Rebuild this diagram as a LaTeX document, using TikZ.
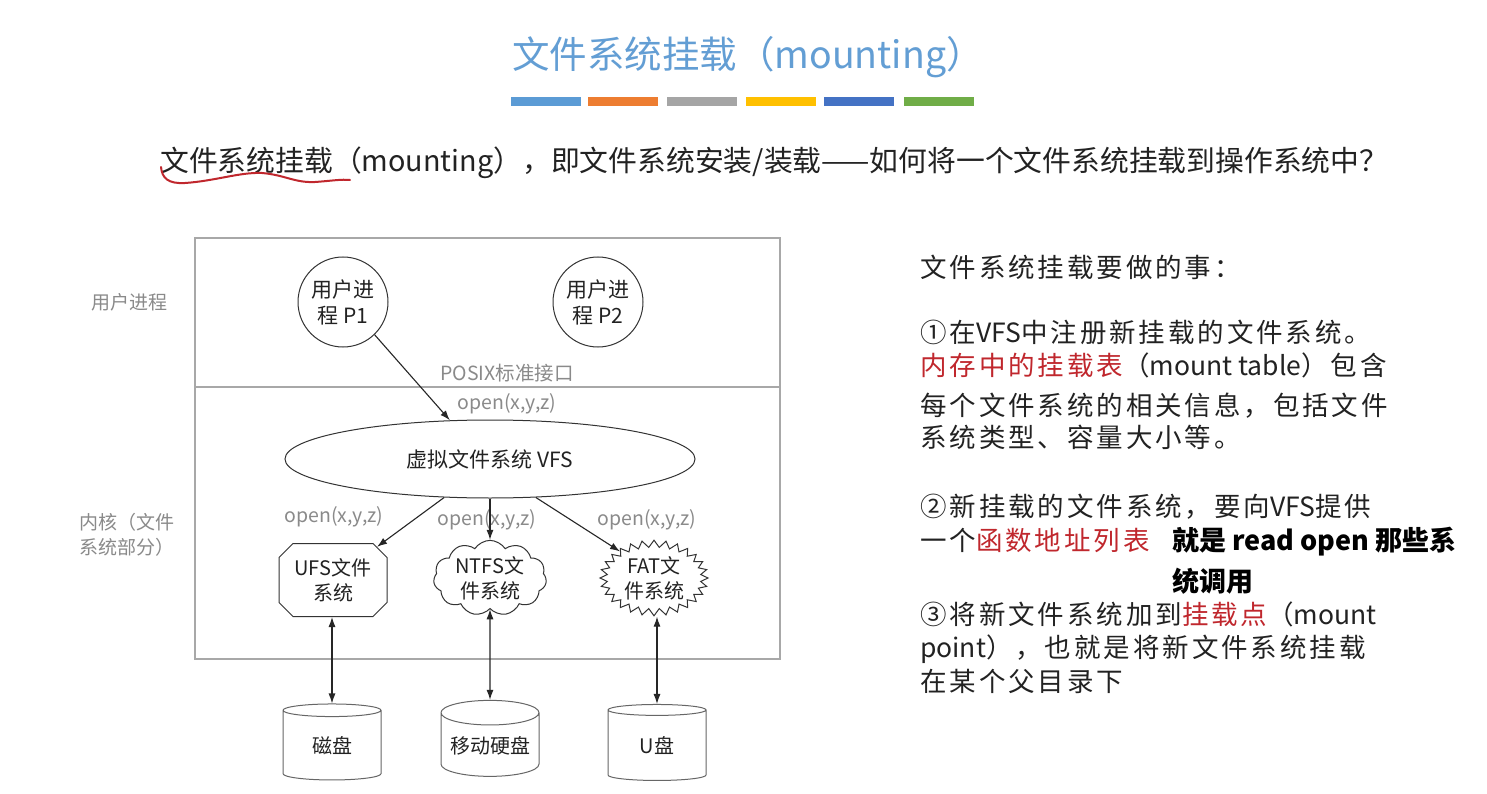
\documentclass[tikz,border=0pt]{standalone}
\usepackage{fontspec}
\setmainfont{Noto Sans CJK SC}
\newfontfamily\rspfont[LetterSpace=11]{Noto Sans CJK SC}
\newfontfamily\rlat{Noto Sans CJK SC}
\usetikzlibrary{arrows.meta,shapes.geometric,shapes.symbols,shapes.misc}
\definecolor{titleblue}{HTML}{639ED4}
\definecolor{barA}{HTML}{5B9BD5}
\definecolor{barB}{HTML}{ED7D31}
\definecolor{barC}{HTML}{A5A5A5}
\definecolor{barD}{HTML}{FFC000}
\definecolor{barE}{HTML}{4472C4}
\definecolor{barF}{HTML}{70AD47}
\definecolor{labgray}{HTML}{8A8A8A}
\definecolor{boxgray}{HTML}{A8A8A8}
\definecolor{myred}{HTML}{C0272D}
\definecolor{txt}{HTML}{222222}
\tikzset{
  bar/.style={fill=#1, draw=none},
  sidelab/.style={text=labgray, font=\fontsize{19}{25}\selectfont, align=left},
  glab/.style={text=labgray, font=\fontsize{19.5}{22}\selectfont, inner sep=0pt},
  shp/.style={draw=black!80, line width=1pt, text=txt, font=\fontsize{20}{25}\selectfont, align=center, inner sep=1pt},
  arr/.style={draw=black!85, line width=1.1pt, -{Latex[length=10pt,width=7pt]}},
  darr/.style={draw=black!85, line width=1.1pt, {Latex[length=10pt,width=7pt]}-{Latex[length=10pt,width=7pt]}},
  rt/.style={anchor=base west, inner sep=0pt, text=txt, font=\rspfont\fontsize{26.5}{30}\selectfont},
  bt/.style={anchor=base west, inner sep=0pt, text=black, font=\bfseries\fontsize{27}{30}\selectfont},
  disk/.style={shp, cylinder, shape border rotate=90, aspect=0.3, minimum width=98pt, minimum height=76pt, draw=black!60},
}
\begin{document}
\begin{tikzpicture}[x=1pt,y=-1pt]
\fill[white] (0,0) rectangle (1487,794);
\useasboundingbox (0,0) rectangle (1487,794);

% title
\node[text=titleblue, font=\fontsize{37.5}{40}\selectfont, inner sep=0pt] (title) at (748,57) {文件系统挂载（mounting）};
\fill[bar=barA] (511,97) rectangle (581,106);
\fill[bar=barB] (588,97) rectangle (658,106);
\fill[bar=barC] (667,97) rectangle (737,106);
\fill[bar=barD] (746,97) rectangle (816,106);
\fill[bar=barE] (824,97) rectangle (894,106);
\fill[bar=barF] (904,97) rectangle (974,106);

% subtitle
\node[anchor=base west, inner sep=0pt, text=txt, font=\fontsize{28.8}{30}\selectfont] (sub) at (160,172) {文件系统挂载（mounting），即文件系统安装/装载——如何将一个文件系统挂载到操作系统中？};
\draw[myred, line width=2pt, line cap=round] (161,167) .. controls (162,178) and (168,184) .. (185,183) .. controls (215,181) and (240,172) .. (262,173) .. controls (285,175) and (295,183) .. (315,182) .. controls (330,181) and (342,179) .. (350,180);

% diagram frame
\draw[boxgray, line width=1.2pt] (195,238) rectangle (780,659);
\draw[boxgray, line width=1.2pt] (195,387) -- (780,387);
\node[sidelab, anchor=center] (lu) at (129,302) {用户进程};
\node[sidelab, anchor=west] (lk) at (76,535) {内核（文件\\系统部分）};

% processes
\node[shp, circle, minimum size=90pt, font=\fontsize{21}{26}\selectfont] (p1) at (343,302) {用户进\\程 P1};
\node[shp, circle, minimum size=90pt, font=\fontsize{21}{26}\selectfont] (p2) at (598,302) {用户进\\程 P2};
\node[glab] (posix) at (507,373) {POSIX标准接口};
\node[glab] (op0) at (507,404) {open(x,y,z)};

% VFS
\node[shp, ellipse, minimum width=410pt, minimum height=78pt, font=\fontsize{21}{24}\selectfont] (vfs) at (490,459) {虚拟文件系统 VFS};
\draw[arr] (p1.-46) -- (vfs.136);

% file systems
\node[shp, chamfered rectangle, chamfered rectangle xsep=7pt, chamfered rectangle ysep=7pt, minimum width=108pt, minimum height=73pt] (ufs) at (333,580) {UFS文件\\系统};
\node[shp, cloud, cloud puffs=11, cloud puff arc=115, aspect=1.7, minimum width=113pt, minimum height=68pt, inner sep=0pt] (ntfs) at (490,578) {NTFS文\\件系统};
\node[shp, starburst, starburst points=28, starburst point height=7pt, random starburst=0, minimum width=108pt, minimum height=68pt, inner sep=0pt] (fat) at (654,578) {FAT文\\件系统};

\node[glab] (op1) at (334,517) {open(x,y,z)};
\node[glab] (op2) at (487,520) {open(x,y,z)};
\node[glab] (op3) at (647,520) {open(x,y,z)};

\draw[arr] (vfs.-140) -- (ufs.37);
\draw[arr] (vfs.south) -- (ntfs.north);
\draw[arr] (vfs.-40) -- (fat.142);

% disks
\node[disk] (d1) at (332,746) {磁盘};
\node[disk] (d2) at (490,746) {移动硬盘};
\node[disk] (d3) at (657,746) {U盘};

\draw[darr] (ufs.south -| d1.north) -- (d1.north);
\draw[darr] (ntfs.south) -- (d2.north);
\draw[darr] (fat.south -| d3.north) -- (d3.north);

% right text
\node[rt] (r1) at (920,277) {文件系统挂载要做的事：};
\node[rt] (r2) at (920,342) {①在{\rlat VFS}中注册新挂载的文件系统。};
\node[rt] (r3) at (920,375) {\textcolor{myred}{内存中的挂载表}（{\rlat mount table}）包含};
\node[rt] (r4) at (920,415) {每个文件系统的相关信息，包括文件};
\node[rt] (r5) at (920,447) {系统类型、容量大小等。};
\node[rt] (r6) at (920,516) {②新挂载的文件系统，要向{\rlat VFS}提供};
\node[rt] (r7) at (920,550) {一个\textcolor{myred}{函数地址列表}};
\node[bt] (b1) at (1172,550) {就是 read open 那些系};
\node[bt] (b2) at (1172,591) {统调用};
\node[rt] (r8) at (920,624) {③将新文件系统加到\textcolor{myred}{挂载点}（{\rlat mount}};
\node[rt] (r9) at (920,657) {{\rlat point}），也就是将新文件系统挂载};
\node[rt] (r10) at (920,691) {在某个父目录下};
\end{tikzpicture}
\end{document}
